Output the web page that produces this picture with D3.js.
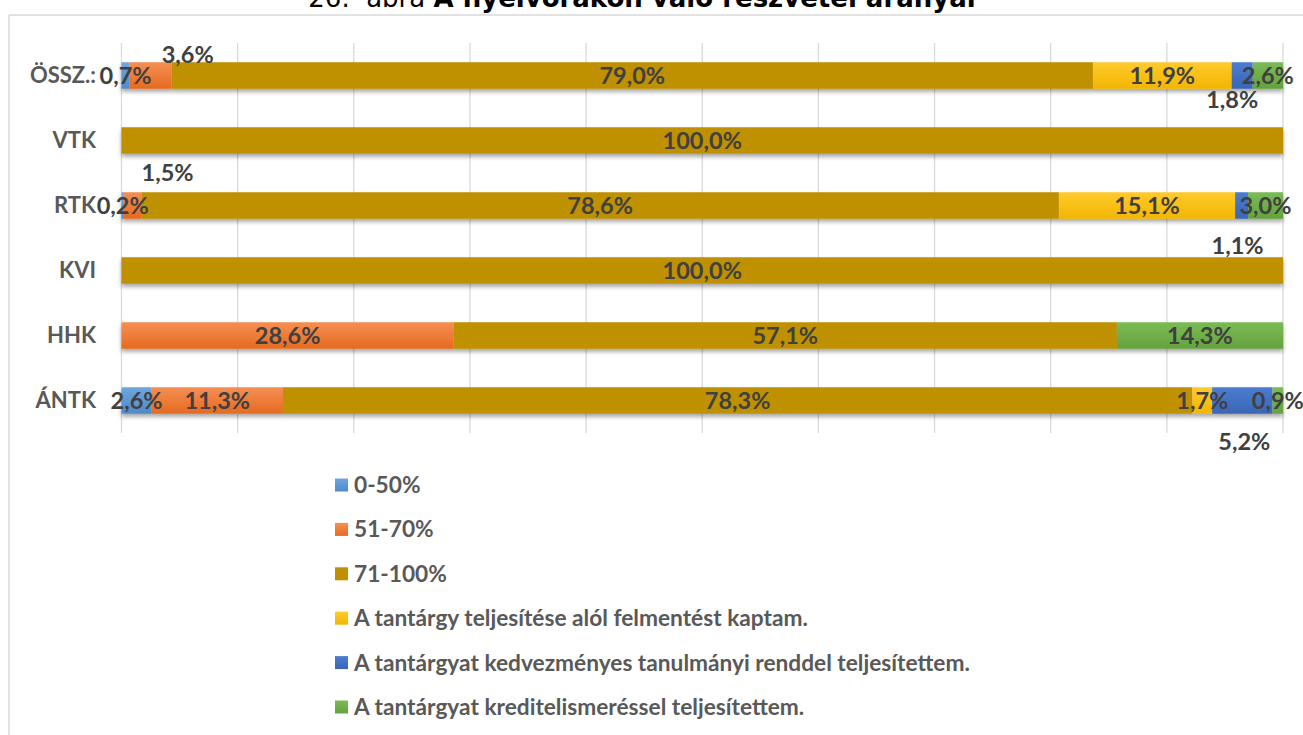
<!DOCTYPE html>
<html>
<head>
<meta charset="utf-8">
<script src="https://cdn.jsdelivr.net/npm/d3@7"></script>
<style>
    body { margin: 0; background: #fff; }
    #chart { width: 1303px; height: 735px; }
</style>
</head>
<body>
<div id="chart"></div>
<script>
var categories = ["ÖSSZ.:", "VTK", "RTK", "KVI", "HHK", "ÁNTK"];
var seriesNames = ["0-50%", "51-70%", "71-100%",
    "A tantárgy teljesítése alól felmentést kaptam.",
    "A tantárgyat kedvezményes tanulmányi renddel teljesítettem.",
    "A tantárgyat kreditelismeréssel teljesítettem."];
var s0_50 = [0.7, 0, 0.2, 0, 0, 2.6];
var s51_70 = [3.6, 0, 1.5, 0, 28.6, 11.3];
var s71_100 = [79.0, 100.0, 78.6, 100.0, 57.1, 78.3];
var sFelmentes = [11.9, 0, 15.1, 0, 0, 1.7];
var sKedvezmenyes = [1.8, 0, 1.1, 0, 0, 5.2];
var sKredit = [2.6, 0, 3.0, 0, 14.3, 0.9];

// labels that were dragged off their bar in the original
var labelNudge = {
    "ÖSSZ.:|1": [37, -21], "ÖSSZ.:|4": [-10, 24],
    "RTK|1": [35, -33], "RTK|4": [-4, 40],
    "ÁNTK|4": [2, 41]
};

var colors = [
    ["#6fa6dd", "#4d8bcb"],
    ["#f58f55", "#e66a1e"],
    ["#bf9000", "#bf9000"],
    ["#ffca2e", "#f2b600"],
    ["#4c7cd0", "#3a66b6"],
    ["#7bbb56", "#64a23e"]
];

var allSeries = [s0_50, s51_70, s71_100, sFelmentes, sKedvezmenyes, sKredit];
var rows = categories.map(function(c, i) {
    var r = {cat: c};
    allSeries.forEach(function(s, k) { r["s" + k] = s[i]; });
    return r;
});
var keys = allSeries.map(function(s, k) { return "s" + k; });

var svg = d3.select("#chart").append("svg")
    .attr("width", 1303)
    .attr("height", 735);

var defs = svg.append("defs");
colors.forEach(function(c, k) {
    var g = defs.append("linearGradient")
        .attr("id", "grad" + k)
        .attr("x1", 0).attr("y1", 0).attr("x2", 0).attr("y2", 1);
    g.append("stop").attr("offset", "0%").attr("stop-color", c[0]);
    g.append("stop").attr("offset", "100%").attr("stop-color", c[1]);
});
defs.append("filter")
    .attr("id", "shadow")
    .attr("x", "-5%").attr("y", "-30%").attr("width", "110%").attr("height", "180%")
    .append("feDropShadow")
    .attr("dx", 0).attr("dy", 3).attr("stdDeviation", 2)
    .attr("flood-color", "#000").attr("flood-opacity", 0.35);

// chart frame (only top and left edges are visible)
svg.append("line")
    .attr("x1", 9).attr("x2", 1303).attr("y1", 15).attr("y2", 15)
    .attr("stroke", "#d9d9d9").attr("stroke-width", 1.5);
svg.append("line")
    .attr("x1", 9).attr("x2", 9).attr("y1", 15).attr("y2", 735)
    .attr("stroke", "#d9d9d9").attr("stroke-width", 1.5);

// title, cut off at the top in the original
var title = svg.append("text")
    .attr("x", 642).attr("y", 7)
    .attr("text-anchor", "middle")
    .style("font-family", "'DejaVu Sans', Verdana, sans-serif")
    .style("font-size", "26px")
    .attr("fill", "#000");
title.append("tspan").text("26.\u00a0 ábra ");
title.append("tspan").attr("font-weight", "bold").text("A nyelvórákon való részvétel arányai");

var xScale = d3.scaleLinear().domain([0, 1]).range([121.5, 1283]);
var yScale = d3.scaleBand().domain(categories).range([43, 433])
    .paddingInner(0.592).paddingOuter(0.296);

var gridTicks = d3.range(0, 1.0001, 0.1);
svg.append("g")
    .selectAll("line")
    .data(gridTicks)
    .enter().append("line")
    .attr("x1", function(d) { return xScale(d); })
    .attr("x2", function(d) { return xScale(d); })
    .attr("y1", 43).attr("y2", 433)
    .attr("stroke", "#d9d9d9").attr("stroke-width", 1.3);

var stack = d3.stack().keys(keys).offset(d3.stackOffsetExpand);
var stacked = stack(rows);

var bars = svg.append("g").attr("class", "bars");
bars.selectAll("g.row")
    .data(categories)
    .enter().append("g")
    .attr("class", "row")
    .attr("filter", "url(#shadow)")
    .each(function(cat, i) {
        var g = d3.select(this);
        stacked.forEach(function(layer, k) {
            var d = layer[i];
            if (d[1] - d[0] <= 0) { return; }
            g.append("rect")
                .attr("x", xScale(d[0]))
                .attr("y", yScale(cat))
                .attr("width", xScale(d[1]) - xScale(d[0]))
                .attr("height", yScale.bandwidth())
                .attr("fill", "url(#grad" + k + ")");
        });
    });

var fmt = function(v) { return d3.format(".1f")(v).replace(".", ",") + "%"; };

var labels = svg.append("g")
    .style("font-family", "Lato, 'Open Sans', sans-serif")
    .style("font-weight", "bold")
    .style("font-size", "23.5px")
    .attr("fill", "#404040");
stacked.forEach(function(layer, k) {
    layer.forEach(function(d, i) {
        var v = allSeries[k][i];
        if (!v) { return; }
        var cat = categories[i];
        var nudge = labelNudge[cat + "|" + k] || [0, 0];
        labels.append("text")
            .attr("x", xScale((d[0] + d[1]) / 2) + nudge[0])
            .attr("y", yScale(cat) + yScale.bandwidth() / 2 + nudge[1])
            .attr("dy", "0.35em")
            .attr("text-anchor", "middle")
            .text(fmt(v));
    });
});

var yAxis = d3.axisLeft(yScale).tickSize(0).tickPadding(25.5);
var gY = svg.append("g")
    .attr("transform", "translate(" + xScale(0) + ",0)")
    .call(yAxis);
gY.select(".domain").remove();
gY.selectAll("text")
    .style("font-family", "Lato, 'Open Sans', sans-serif")
    .style("font-weight", "bold")
    .style("font-size", "22px")
    .attr("fill", "#595959");

// legend
var legend = svg.append("g")
    .style("font-family", "Lato, 'Open Sans', sans-serif")
    .style("font-weight", "bold")
    .style("font-size", "22.7px");
var legendY = d3.scalePoint().domain(seriesNames).range([485, 707]);
seriesNames.forEach(function(name, k) {
    var cy = legendY(name);
    legend.append("rect")
        .attr("x", 335).attr("y", cy - 6.5)
        .attr("width", 13).attr("height", 13)
        .attr("fill", "url(#grad" + k + ")");
    legend.append("text")
        .attr("x", 354).attr("y", cy)
        .attr("dy", "0.35em")
        .attr("fill", "#595959")
        .text(name);
});
</script>
</body>
</html>
